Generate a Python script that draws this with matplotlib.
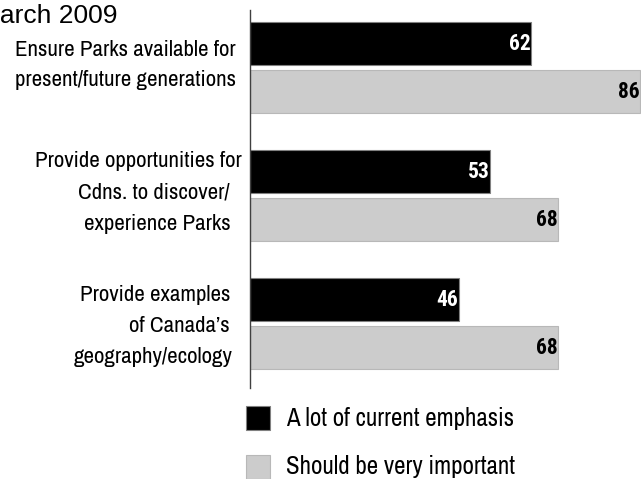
import matplotlib
matplotlib.use("Agg")
import matplotlib.pyplot as plt

categories = [
    "Ensure Parks available for\npresent/future generations",
    "Provide opportunities for\nCdns. to discover/\nexperience Parks",
    "Provide examples\nof Canada\u2019s\ngeography/ecology",
]
current_emphasis = [62, 53, 46]
very_important = [86, 68, 68]
series_names = ["A lot of current emphasis", "Should be very important"]
title = "March 2009"

NARROW = ["Archivo Narrow", "Liberation Sans", "DejaVu Sans"]
NARROW_BOLD = ["Roboto Condensed", "Fira Sans Condensed", "Liberation Sans", "DejaVu Sans"]
plt.rcParams["font.family"] = NARROW

W, H = 641, 479
fig = plt.figure(figsize=(W / 100, H / 100), dpi=100)

# bar area: left spine at x=250px, from y~10px down to ~388px
ax = fig.add_axes([250 / W, 1 - 388 / H, (W - 250) / W, (388 - 10) / H])
ax.set_xlim(0, 86.2)
ax.set_ylim(388, 10)

group_top = [22, 150, 278]
bar_h = 43
gap = 5
for i in range(len(categories)):
    y0 = group_top[i]
    ax.barh(y0 + bar_h / 2, current_emphasis[i], height=bar_h, color="black",
            edgecolor="#808080", linewidth=0.8)
    y1 = y0 + bar_h + gap
    ax.barh(y1 + bar_h / 2, very_important[i], height=bar_h, color="#cccccc",
            edgecolor="#b8b8b8", linewidth=0.8)
    ax.text(current_emphasis[i] - 0.2, y0 + bar_h / 2, str(current_emphasis[i]),
            ha="right", va="center", color="white", fontsize=15.5,
            fontweight="bold", family=NARROW_BOLD)
    ax.text(very_important[i] - 0.2, y1 + bar_h / 2, str(very_important[i]),
            ha="right", va="center", color="black", fontsize=15.5,
            fontweight="bold", family=NARROW_BOLD)

ax.set_xticks([])
ax.set_yticks([])
for s in ["top", "right", "bottom"]:
    ax.spines[s].set_visible(False)
ax.spines["left"].set_color("#404040")
ax.spines["left"].set_linewidth(1.0)
ax.patch.set_alpha(0)

# category labels, one text per line, right-aligned near the axis
line_y = [[50, 80], [161, 192, 224], [295, 326, 357]]
line_right = [[236, 236], [242, 230, 231], [230, 230, 233]]
for cat, ys, xs in zip(categories, line_y, line_right):
    for line, y, x in zip(cat.split("\n"), ys, xs):
        fig.text(x / W, 1 - y / H, line, ha="right", va="center", fontsize=16.5)

fig.text(118 / W, 1 - 16 / H, title, ha="right", va="center", fontsize=19,
         family=["Liberation Sans", "DejaVu Sans"])

# legend swatches and labels
leg_y = [418, 467]
colors = ["black", "#cccccc"]
edges = ["#808080", "#b8b8b8"]
for y, c, e, name in zip(leg_y, colors, edges, series_names):
    fig.patches.append(plt.Rectangle((246 / W, 1 - (y + 12) / H), 24 / W, 24 / H,
                                     transform=fig.transFigure, facecolor=c,
                                     edgecolor=e, linewidth=0.8))
    fig.text(286 / W, 1 - y / H, name, ha="left", va="center", fontsize=18)

fig.savefig("out.png", dpi=100)
